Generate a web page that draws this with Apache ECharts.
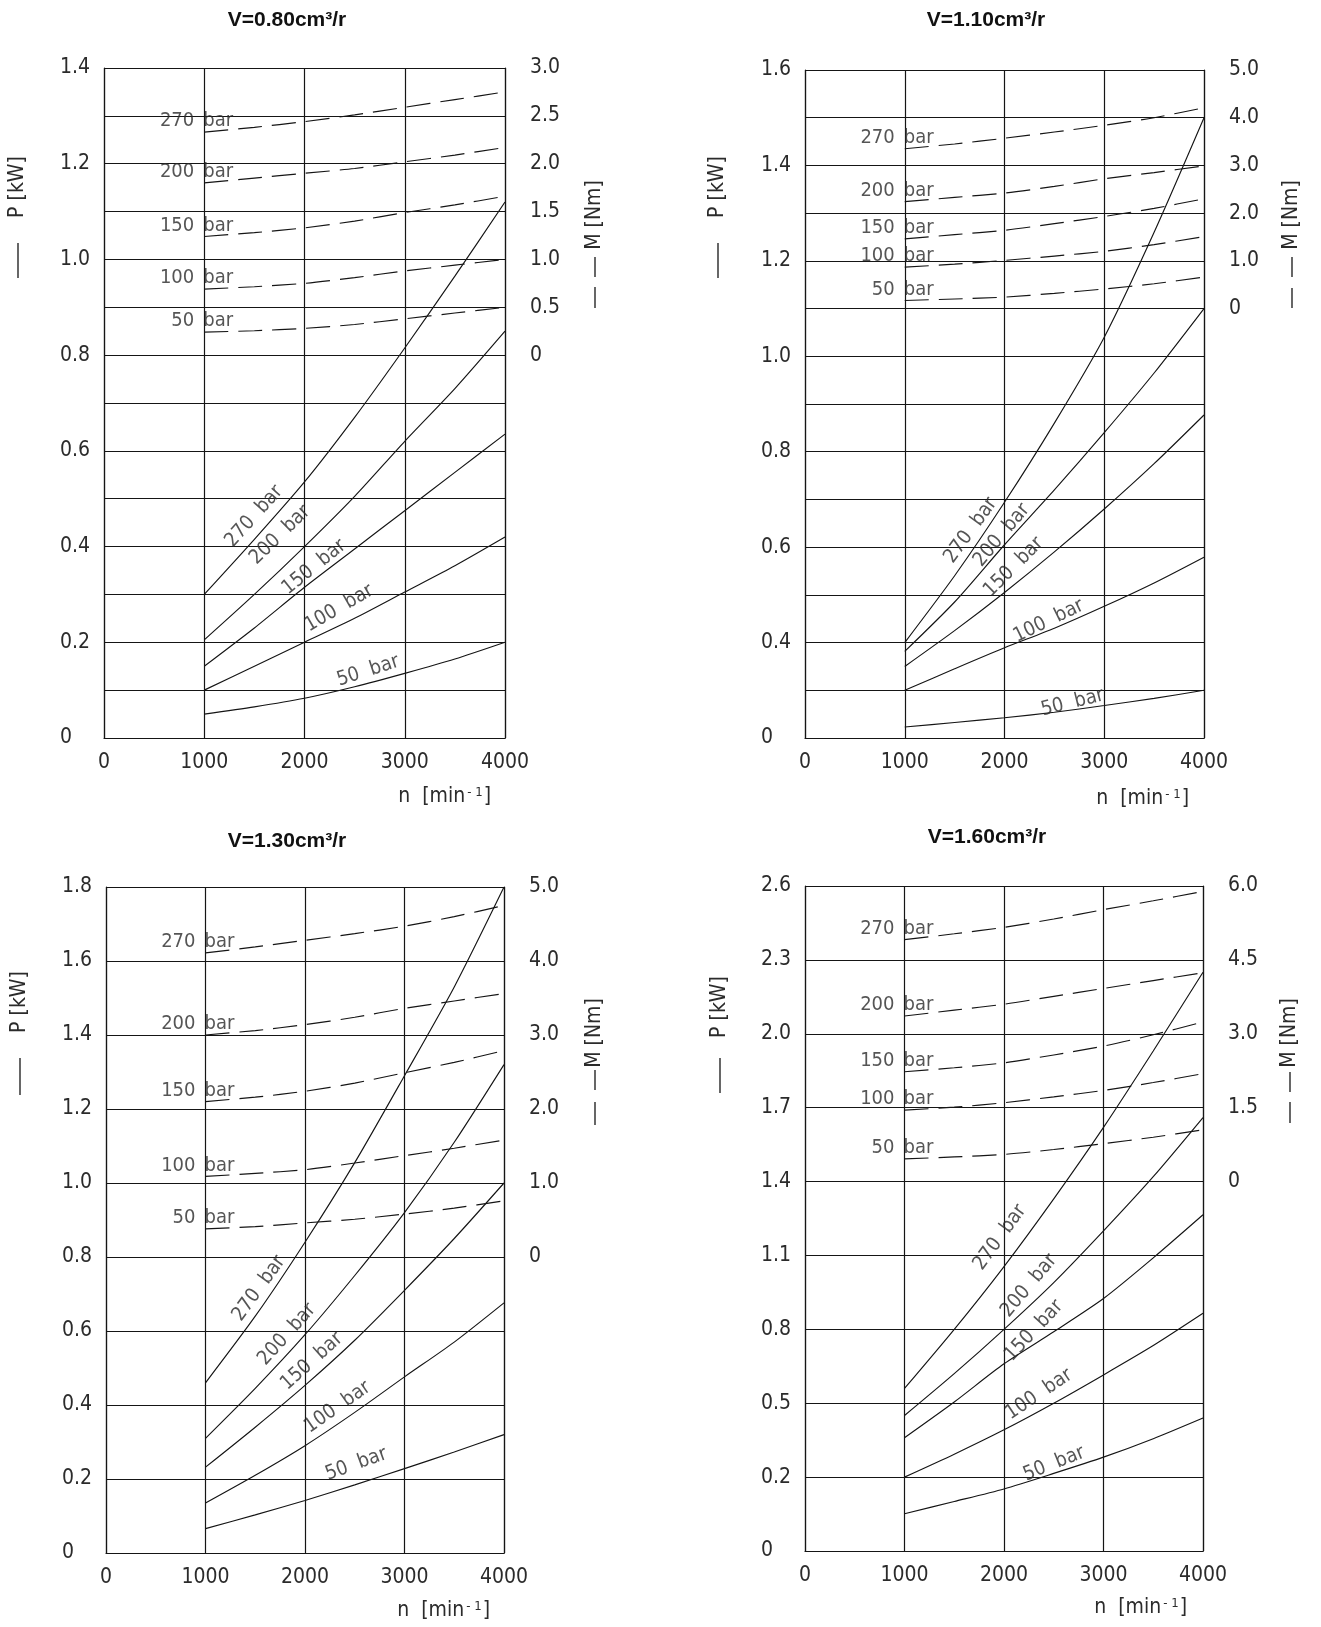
<!DOCTYPE html>
<html><head><meta charset="utf-8">
<script src="https://cdn.jsdelivr.net/npm/echarts@6/dist/echarts.min.js"></script>
<style>html,body{margin:0;padding:0;background:#fff}#c{width:1321px;height:1627px}</style>
</head><body><div id="c"></div>
<script>
// ---------- DATA ----------
const speeds = [1000, 1500, 2000, 2500, 3000, 3500, 4000];
const pressureNames = ['270', '200', '150', '100', '50'];
const speedTicks = [0, 1000, 2000, 3000, 4000];

// V = 0.80 cm3/r
const c1PowerTicks  = [0, 0.1, 0.2, 0.3, 0.4, 0.5, 0.6, 0.7, 0.8, 0.9, 1.0, 1.1, 1.2, 1.3, 1.4];
const c1PowerLabels = ['0', '', '0.2', '', '0.4', '', '0.6', '', '0.8', '', '1.0', '', '1.2', '', '1.4'];
const c1TorqueTicks  = [-4, -3.5, -3, -2.5, -2, -1.5, -1, -0.5, 0, 0.5, 1, 1.5, 2, 2.5, 3];
const c1TorqueLabels = ['', '', '', '', '', '', '', '', '0', '0.5', '1.0', '1.5', '2.0', '2.5', '3.0'];
const c1Power = [
  [0.30, 0.415, 0.535, 0.67, 0.815, 0.965, 1.12],
  [0.205, 0.30, 0.40, 0.505, 0.62, 0.73, 0.85],
  [0.15, 0.23, 0.315, 0.395, 0.475, 0.555, 0.635],
  [0.10, 0.15, 0.20, 0.25, 0.305, 0.36, 0.42],
  [0.05, 0.065, 0.083, 0.107, 0.135, 0.165, 0.20]
];
const c1Torque = [
  [2.33, 2.38, 2.44, 2.51, 2.59, 2.67, 2.75],
  [1.80, 1.85, 1.90, 1.95, 2.02, 2.09, 2.17],
  [1.24, 1.28, 1.33, 1.40, 1.49, 1.57, 1.66],
  [0.69, 0.715, 0.75, 0.81, 0.88, 0.94, 1.00],
  [0.24, 0.255, 0.28, 0.32, 0.38, 0.44, 0.50]
];

// V = 1.10 cm3/r
const c2PowerTicks  = [0, 0.2, 0.4, 0.5, 0.6, 0.7, 0.8, 0.9, 1.0, 1.1, 1.2, 1.3, 1.4, 1.5, 1.6];
const c2PowerLabels = ['0', '', '0.4', '', '0.6', '', '0.8', '', '1.0', '', '1.2', '', '1.4', '', '1.6'];
const c2TorqueTicks  = [-9, -8, -7, -6, -5, -4, -3, -2, -1, 0, 1, 2, 3, 4, 5];
const c2TorqueLabels = ['', '', '', '', '', '', '', '', '', '0', '1.0', '2.0', '3.0', '4.0', '5.0'];
const c2Power = [
  [0.40, 0.54, 0.694, 0.86, 1.04, 1.26, 1.50],
  [0.363, 0.485, 0.605, 0.72, 0.84, 0.965, 1.10],
  [0.30, 0.425, 0.505, 0.59, 0.68, 0.775, 0.877],
  [0.20, 0.29, 0.378, 0.43, 0.476, 0.525, 0.579],
  [0.046, 0.065, 0.085, 0.108, 0.136, 0.166, 0.20]
];
const c2Torque = [
  [3.35, 3.45, 3.57, 3.70, 3.84, 4.00, 4.21],
  [2.24, 2.33, 2.42, 2.56, 2.72, 2.85, 2.99],
  [1.46, 1.55, 1.64, 1.78, 1.93, 2.10, 2.30],
  [0.87, 0.93, 1.01, 1.10, 1.20, 1.34, 1.51],
  [0.17, 0.20, 0.24, 0.32, 0.41, 0.52, 0.66]
];

// V = 1.30 cm3/r
const c3PowerTicks  = [0, 0.2, 0.4, 0.6, 0.8, 1.0, 1.2, 1.4, 1.6, 1.8];
const c3PowerLabels = ['0', '0.2', '0.4', '0.6', '0.8', '1.0', '1.2', '1.4', '1.6', '1.8'];
const c3TorqueTicks  = [-4, -3, -2, -1, 0, 1, 2, 3, 4, 5];
const c3TorqueLabels = ['', '', '', '', '0', '1.0', '2.0', '3.0', '4.0', '5.0'];
const c3Power = [
  [0.46, 0.64, 0.84, 1.055, 1.29, 1.53, 1.80],
  [0.31, 0.445, 0.59, 0.75, 0.92, 1.11, 1.32],
  [0.232, 0.34, 0.453, 0.575, 0.71, 0.85, 1.00],
  [0.135, 0.21, 0.29, 0.38, 0.476, 0.57, 0.676],
  [0.066, 0.103, 0.142, 0.184, 0.228, 0.273, 0.32]
];
const c3Torque = [
  [4.11, 4.19, 4.28, 4.37, 4.47, 4.60, 4.75],
  [3.00, 3.06, 3.14, 3.24, 3.36, 3.46, 3.56],
  [2.10, 2.16, 2.24, 2.35, 2.49, 2.63, 2.79],
  [1.09, 1.13, 1.18, 1.27, 1.37, 1.47, 1.58],
  [0.38, 0.41, 0.46, 0.51, 0.58, 0.66, 0.76]
];

// V = 1.60 cm3/r
const c4PowerTicks  = [0, 0.2, 0.5, 0.8, 1.1, 1.4, 1.7, 2.0, 2.3, 2.6];
const c4PowerLabels = ['0', '0.2', '0.5', '0.8', '1.1', '1.4', '1.7', '2.0', '2.3', '2.6'];
const c4TorqueTicks  = [-7.5, -6, -4.5, -3, -1.5, 0, 1.5, 3, 4.5, 6];
const c4TorqueLabels = ['', '', '', '', '', '0', '1.5', '3.0', '4.5', '6.0'];
const c4Power = [
  [0.56, 0.80, 1.055, 1.33, 1.62, 1.93, 2.25],
  [0.45, 0.62, 0.80, 0.99, 1.20, 1.42, 1.66],
  [0.36, 0.505, 0.66, 0.79, 0.925, 1.09, 1.265],
  [0.20, 0.293, 0.392, 0.50, 0.615, 0.734, 0.865],
  [0.101, 0.134, 0.168, 0.215, 0.281, 0.356, 0.44]
];
const c4Torque = [
  [4.91, 5.03, 5.16, 5.33, 5.52, 5.70, 5.89],
  [3.36, 3.48, 3.60, 3.76, 3.92, 4.08, 4.24],
  [2.23, 2.31, 2.41, 2.57, 2.75, 2.98, 3.24],
  [1.45, 1.51, 1.60, 1.72, 1.85, 2.01, 2.19],
  [0.46, 0.50, 0.55, 0.65, 0.77, 0.90, 1.05]
];

// in-plot annotation anchors for the power-curve labels: [n, P]
const c1PowerLabelAt = [[1497, 0.463], [1756, 0.424], [2096, 0.357], [2345, 0.271], [2634, 0.14]];
const c2PowerLabelAt = [[1662, 0.635], [1972, 0.625], [2092, 0.558], [2443, 0.445], [2683, 0.148]];
const c3PowerLabelAt = [[1538, 0.715], [1819, 0.591], [2070, 0.518], [2327, 0.394], [2515, 0.24]];
const c4PowerLabelAt = [[1960, 1.173], [2251, 0.977], [2301, 0.794], [2352, 0.536], [2503, 0.254]];

// ---------- LAYOUT / STYLE ----------
const FONT = '"Liberation Sans Narrow","DejaVu Sans Condensed","Arial Narrow",sans-serif';
const TFONT = '"Liberation Sans",Arial,sans-serif';
const TXT = '#2b2b2b';
const INK = '#151515';

const panels = [
  { title: 'V=0.80cm³/r', pTicks: c1PowerTicks, pLabels: c1PowerLabels, mTicks: c1TorqueTicks, mLabels: c1TorqueLabels,
    power: c1Power, torque: c1Torque, labelAt: c1PowerLabelAt, labelRot: [48, 44, 39, 30, 18],
    grid: { left: 104, top: 68, width: 401, height: 670 }, titleXY: [287, 20],
    pName: { x: 18, ty: 187, line: [243, 278] }, mName: { x: 595, ty: 215, dashes: [[257, 277], [287, 308]] }, nNameXY: [491, 797] },
  { title: 'V=1.10cm³/r', pTicks: c2PowerTicks, pLabels: c2PowerLabels, mTicks: c2TorqueTicks, mLabels: c2TorqueLabels,
    power: c2Power, torque: c2Torque, labelAt: c2PowerLabelAt, labelRot: [54, 50, 45, 26, 14],
    grid: { left: 805, top: 70, width: 399, height: 668 }, titleXY: [986, 20],
    pName: { x: 718, ty: 187, line: [243, 278] }, mName: { x: 1292, ty: 215, dashes: [[257, 277], [288, 308]] }, nNameXY: [1189, 799] },
  { title: 'V=1.30cm³/r', pTicks: c3PowerTicks, pLabels: c3PowerLabels, mTicks: c3TorqueTicks, mLabels: c3TorqueLabels,
    power: c3Power, torque: c3Torque, labelAt: c3PowerLabelAt, labelRot: [54, 48, 42, 35, 20],
    grid: { left: 106, top: 887, width: 398, height: 666 }, titleXY: [287, 841],
    pName: { x: 20, ty: 1002, line: [1058, 1095] }, mName: { x: 595, ty: 1033, dashes: [[1070, 1090], [1102, 1125]] }, nNameXY: [490, 1611] },
  { title: 'V=1.60cm³/r', pTicks: c4PowerTicks, pLabels: c4PowerLabels, mTicks: c4TorqueTicks, mLabels: c4TorqueLabels,
    power: c4Power, torque: c4Torque, labelAt: c4PowerLabelAt, labelRot: [54, 50, 47, 34, 22],
    grid: { left: 805, top: 886, width: 398, height: 665 }, titleXY: [987, 837],
    pName: { x: 720, ty: 1007, line: [1058, 1093] }, mName: { x: 1290, ty: 1033, dashes: [[1072, 1092], [1102, 1123]] }, nNameXY: [1187, 1608] }
];

// map a power value onto the drawn (grid-unit) left axis using its tick table
function toUnit(ticks, v) {
  for (let i = 0; i < ticks.length - 1; i++) {
    if (v <= ticks[i + 1] || i === ticks.length - 2) return i + (v - ticks[i]) / (ticks[i + 1] - ticks[i]);
  }
}

const gridLine = { color: INK, width: 1.2 };
const grids = [], xAxes = [], yAxes = [], series = [], graphics = [];
const textStyle = { fontSize: 21, fontFamily: FONT, fill: TXT, align: 'center', verticalAlign: 'middle', textAlign: 'center', textVerticalAlign: 'middle' };

panels.forEach((p, i) => {
  grids.push(Object.assign({ containLabel: false }, p.grid));
  xAxes.push({
    gridIndex: i, type: 'value', min: speedTicks[0], max: speedTicks[speedTicks.length - 1], interval: speedTicks[1] - speedTicks[0],
    axisLine: { show: true, lineStyle: gridLine }, axisTick: { show: false },
    splitLine: { show: true, lineStyle: gridLine },
    axisLabel: { fontSize: 21, fontFamily: FONT, color: TXT, margin: 14, formatter: v => String(v) }
  });
  yAxes.push({
    gridIndex: i, type: 'value', position: 'left', min: 0, max: p.pTicks.length - 1, interval: 1,
    axisLine: { show: true, lineStyle: gridLine }, axisTick: { show: false },
    splitLine: { show: true, lineStyle: gridLine },
    axisLabel: { fontSize: 21, fontFamily: FONT, color: TXT, margin: 44, align: 'left',
      formatter: v => p.pLabels[Math.round(v)] || '' }
  });
  const mStep = p.mTicks[1] - p.mTicks[0];
  yAxes.push({
    gridIndex: i, type: 'value', position: 'right', min: p.mTicks[0], max: p.mTicks[p.mTicks.length - 1], interval: mStep,
    axisLine: { show: true, lineStyle: gridLine }, axisTick: { show: false }, splitLine: { show: false },
    axisLabel: { fontSize: 21, fontFamily: FONT, color: TXT, margin: 25, align: 'left',
      formatter: v => p.mLabels[Math.round((v - p.mTicks[0]) / mStep)] || '' }
  });

  p.power.forEach(row => {
    series.push({
      type: 'line', xAxisIndex: i, yAxisIndex: 2 * i, silent: true, z: 3,
      data: speeds.map((n, k) => [n, toUnit(p.pTicks, row[k])]),
      smooth: 0.25, symbol: 'none',
      lineStyle: { color: INK, width: 1.15 }
    });
  });
  p.torque.forEach(row => {
    series.push({
      type: 'line', xAxisIndex: i, yAxisIndex: 2 * i + 1, silent: true, z: 3,
      data: speeds.map((n, k) => [n, row[k]]),
      smooth: 0.25, symbol: 'none',
      lineStyle: { color: INK, width: 1.15, type: [24, 10] }
    });
  });
  // rotated labels on the power curves
  series.push({
    type: 'scatter', xAxisIndex: i, yAxisIndex: 2 * i, silent: true, z: 4, symbolSize: 0,
    data: p.labelAt.map((a, j) => ({ value: [a[0], toUnit(p.pTicks, a[1])],
      label: { rotate: p.labelRot[j], formatter: pressureNames[j] + '  bar' } })),
    label: { show: true, position: 'inside', fontSize: 20, fontFamily: FONT, color: TXT }
  });
  // labels at the start of the torque curves: number left of the 1000 line, "bar" right of it
  series.push({
    type: 'scatter', xAxisIndex: i, yAxisIndex: 2 * i + 1, silent: true, z: 4, symbolSize: 0,
    data: p.torque.map((row, j) => ({ value: [speeds[0], row[0]], label: { formatter: pressureNames[j] } })),
    label: { show: true, position: 'top', distance: 1, align: 'right', offset: [-10, 0], fontSize: 20, fontFamily: FONT, color: TXT }
  });
  series.push({
    type: 'scatter', xAxisIndex: i, yAxisIndex: 2 * i + 1, silent: true, z: 4, symbolSize: 0,
    data: p.torque.map(row => [speeds[0], row[0]]),
    label: { show: true, position: 'top', distance: 1, align: 'left', offset: [-1, 0], formatter: 'bar', fontSize: 20, fontFamily: FONT, color: TXT }
  });

  // title
  graphics.push({
    type: 'text', x: p.titleXY[0], y: p.titleXY[1], silent: true,
    style: Object.assign({}, textStyle, { text: p.title, fontWeight: 'bold', fontFamily: TFONT, fill: '#111' })
  });
  // left axis name: solid sample line + "P [kW]"
  graphics.push({
    type: 'text', x: p.pName.x, y: p.pName.ty, rotation: Math.PI / 2, silent: true,
    style: Object.assign({}, textStyle, { text: 'P [kW]' })
  });
  graphics.push({
    type: 'line', silent: true,
    shape: { x1: p.pName.x, y1: p.pName.line[0], x2: p.pName.x, y2: p.pName.line[1] },
    style: { stroke: INK, lineWidth: 1.3 }
  });
  // right axis name: dashed sample + "M [Nm]"
  graphics.push({
    type: 'text', x: p.mName.x, y: p.mName.ty, rotation: Math.PI / 2, silent: true,
    style: Object.assign({}, textStyle, { text: 'M [Nm]' })
  });
  p.mName.dashes.forEach(d => graphics.push({
    type: 'line', silent: true,
    shape: { x1: p.mName.x, y1: d[0], x2: p.mName.x, y2: d[1] },
    style: { stroke: INK, lineWidth: 1.3 }
  }));
  // x axis name
  graphics.push({
    type: 'text', x: p.nNameXY[0], y: p.nNameXY[1], silent: true,
    style: Object.assign({}, textStyle, { text: '{a|n  [min}{s|- 1}{a|]}', align: 'right', textAlign: 'right',
      rich: { a: { fontSize: 21, fontFamily: FONT, color: TXT },
              s: { fontSize: 13, fontFamily: FONT, color: TXT, verticalAlign: 'top', padding: [0, 1, 0, 2] } } })
  });
});

const chart = echarts.init(document.getElementById('c'), null, { renderer: 'canvas' });
chart.setOption({
  animation: false,
  backgroundColor: '#ffffff',
  grid: grids, xAxis: xAxes, yAxis: yAxes, series: series,
  graphic: { elements: graphics }
});
</script></body></html>
